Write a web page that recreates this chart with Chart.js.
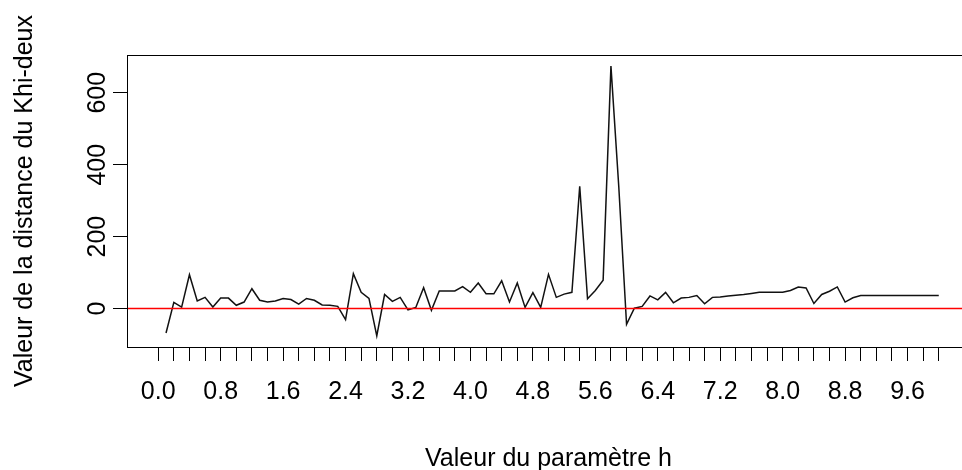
<!DOCTYPE html>
<html lang="fr">
<head>
<meta charset="utf-8">
<title>Distance du Khi-deux selon h</title>
<script src="https://cdn.jsdelivr.net/npm/chart.js@4.4.1/dist/chart.umd.min.js"></script>
<style>
  html, body { margin: 0; padding: 0; background: #fff; overflow: hidden; }
  #wrap { width: 962px; height: 470px; overflow: hidden; }
  canvas { display: block; }
</style>
</head>
<body>
<div id="wrap"><canvas id="chart" width="975" height="470" style="width:975px;height:470px"></canvas></div>
<script>
// valeurs du paramètre h
const H_VALUES = [
  0.1, 0.2, 0.3, 0.4, 0.5, 0.6, 0.7, 0.8, 0.9, 1.0,
  1.1, 1.2, 1.3, 1.4, 1.5, 1.6, 1.7, 1.8, 1.9, 2.0,
  2.1, 2.2, 2.3, 2.4, 2.5, 2.6, 2.7, 2.8, 2.9, 3.0,
  3.1, 3.2, 3.3, 3.4, 3.5, 3.6, 3.7, 3.8, 3.9, 4.0,
  4.1, 4.2, 4.3, 4.4, 4.5, 4.6, 4.7, 4.8, 4.9, 5.0,
  5.1, 5.2, 5.3, 5.4, 5.5, 5.6, 5.7, 5.8, 5.9, 6.0,
  6.1, 6.2, 6.3, 6.4, 6.5, 6.6, 6.7, 6.8, 6.9, 7.0,
  7.1, 7.2, 7.3, 7.4, 7.5, 7.6, 7.7, 7.8, 7.9, 8.0,
  8.1, 8.2, 8.3, 8.4, 8.5, 8.6, 8.7, 8.8, 8.9, 9.0,
  9.1, 9.2, 9.3, 9.4, 9.5, 9.6, 9.7, 9.8, 9.9, 10.0,
];

// distance du Khi-deux pour chaque h
const CHI_DEUX = [
  -68, 17, 4, 94, 21, 31, 4, 29, 29, 9,
  18, 55, 23, 18, 21, 28, 25, 12, 28, 23,
  10, 9, 6, -31, 97, 45, 28, -76, 39, 20,
  31, -4, 3, 58, -5, 49, 49, 49, 61, 45,
  71, 41, 41, 77, 18, 71, 3, 44, 3, 95,
  31, 40, 45, 340, 27, 50, 79, 674, 340, -44,
  1, 6, 35, 24, 45, 16, 29, 31, 36, 13,
  31, 32, 35, 37, 39, 42, 45, 45, 45, 45,
  50, 60, 57, 14, 39, 48, 60, 18, 30, 36,
  36, 36, 36, 36, 36, 36, 36, 36, 36, 36,
];

const X_TICKS = [
  0.0, 0.2, 0.4, 0.6, 0.8, 1.0, 1.2, 1.4, 1.6, 1.8,
  2.0, 2.2, 2.4, 2.6, 2.8, 3.0, 3.2, 3.4, 3.6, 3.8,
  4.0, 4.2, 4.4, 4.6, 4.8, 5.0, 5.2, 5.4, 5.6, 5.8,
  6.0, 6.2, 6.4, 6.6, 6.8, 7.0, 7.2, 7.4, 7.6, 7.8,
  8.0, 8.2, 8.4, 8.6, 8.8, 9.0, 9.2, 9.4, 9.6, 9.8, 10.0,
];
const X_TICK_LABELS = ['0.0', '0.8', '1.6', '2.4', '3.2', '4.0', '4.8', '5.6', '6.4', '7.2', '8.0', '8.8', '9.6'];
const Y_TICKS = [0, 200, 400, 600];

const X_RANGE = [-0.4, 10.4];
const Y_RANGE = [-107, 705];

const FONT_FAMILY = "'Liberation Sans', Arial, sans-serif";
const tickFont = { family: FONT_FAMILY, size: 25, lineHeight: 1 };

// cadre noir autour de la zone de tracé
const plotBox = {
  id: 'plotBox',
  afterDatasetsDraw(chart) {
    const { ctx, chartArea: a } = chart;
    ctx.save();
    ctx.strokeStyle = '#000';
    ctx.lineWidth = 1;
    ctx.strokeRect(Math.round(a.left) + 0.5, Math.round(a.top) + 0.5,
      Math.round(a.right - a.left), Math.round(a.bottom - a.top));
    ctx.restore();
  },
};

const ctx = document.getElementById('chart').getContext('2d');
new Chart(ctx, {
  type: 'line',
  data: {
    datasets: [
      {
        // droite horizontale y = 0
        data: [{ x: X_RANGE[0], y: 0 }, { x: X_RANGE[1], y: 0 }],
        borderColor: '#ff0000',
        borderWidth: 1.6,
        pointRadius: 0,
      },
      {
        data: H_VALUES.map((h, i) => ({ x: h, y: CHI_DEUX[i] })),
        borderColor: '#111',
        borderWidth: 1.5,
        pointRadius: 0,
        tension: 0,
      },
    ],
  },
  options: {
    responsive: false,
    animation: false,
    layout: { padding: { top: 55, right: 5, left: 0, bottom: 0 } },
    plugins: { legend: { display: false }, tooltip: { enabled: false } },
    scales: {
      x: {
        type: 'linear',
        min: X_RANGE[0],
        max: X_RANGE[1],
        afterBuildTicks: (s) => { s.ticks = X_TICKS.map((v) => ({ value: v })); },
        afterFit: (s) => { s.height = 123; },
        ticks: {
          autoSkip: false,
          maxRotation: 0,
          minRotation: 0,
          padding: 19,
          color: '#000',
          font: tickFont,
          callback: (v) => {
            const txt = Number(v).toFixed(1);
            return X_TICK_LABELS.includes(txt) ? txt : '';
          },
        },
        grid: { drawOnChartArea: false, tickLength: 14, color: '#000', lineWidth: 1 },
        border: { display: false },
        title: {
          display: true,
          text: 'Valeur du paramètre h',
          color: '#000',
          font: { family: FONT_FAMILY, size: 25, lineHeight: 1 },
          padding: { top: 0, bottom: -1.5 },
        },
      },
      y: {
        type: 'linear',
        min: Y_RANGE[0],
        max: Y_RANGE[1],
        afterBuildTicks: (s) => { s.ticks = Y_TICKS.map((v) => ({ value: v })); },
        afterFit: (s) => { s.width = 127; },
        ticks: {
          minRotation: 90,
          maxRotation: 90,
          crossAlign: 'center',
          padding: -6,
          color: '#000',
          font: tickFont,
          callback: (v) => String(v),
        },
        grid: { drawOnChartArea: false, tickLength: 14, color: '#000', lineWidth: 1 },
        border: { display: false },
        title: {
          display: true,
          text: 'Valeur de la distance du Khi-deux',
          color: '#000',
          font: { family: FONT_FAMILY, size: 25, lineHeight: 1 },
          padding: { top: 12.5, bottom: 0 },
        },
      },
    },
  },
  plugins: [plotBox],
});
</script>
</body>
</html>
